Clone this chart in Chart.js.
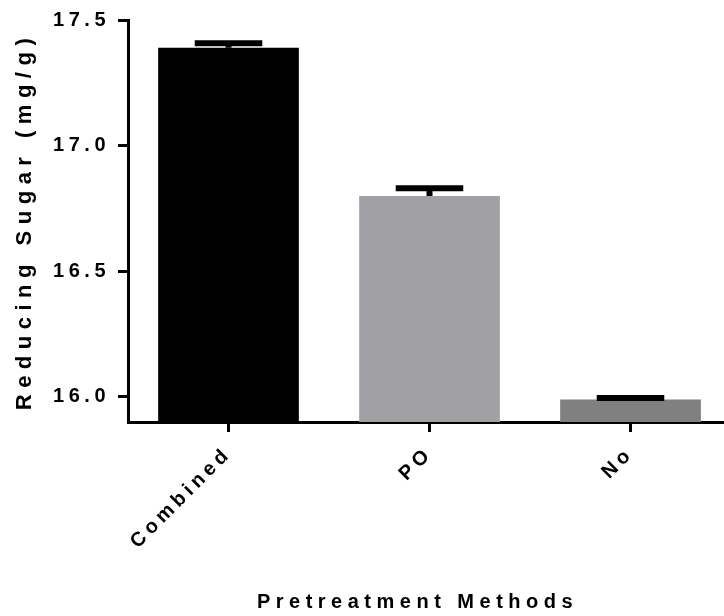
<!DOCTYPE html>
<html>
<head>
<meta charset="utf-8">
<script src="https://cdn.jsdelivr.net/npm/chart.js@4"></script>
<style>
  html, body { margin: 0; padding: 0; background: #fff; overflow: hidden; }
  #wrap { width: 740px; height: 616px; position: relative; }
</style>
</head>
<body>
<div id="wrap"><canvas id="myChart"></canvas></div>
<script>
const methods = ['Combined', 'PO', 'No'];
const sugar = [17.39, 16.80, 15.99];
const sugarErr = [0.017, 0.03, 0.006];
const barColors = ['#000000', '#a1a0a5', '#808080'];
const yTicks = [16.0, 16.5, 17.0, 17.5];

const tickSpacing = '4.5px';
const titleSpacing = { x: '5.5px', y: '6.5px' };

// wide letter spacing like the original figure
const spacing = {
  id: 'spacing',
  beforeLayout(chart) { chart.ctx.letterSpacing = tickSpacing; },
  beforeDraw(chart) {
    chart.ctx.letterSpacing = tickSpacing;
    Object.values(chart.scales).forEach(s => {
      if (s._spaced) return;
      const orig = s.drawTitle.bind(s);
      s.drawTitle = function () {
        const c = chart.ctx;
        c.save();
        c.letterSpacing = titleSpacing[s.id];
        if (s.id === 'x') c.translate(-12, 0);
        orig();
        c.restore();
      };
      s._spaced = true;
    });
  }
};

// error bars (upper half only)
const errorBars = {
  id: 'errorBars',
  afterDatasetsDraw(chart) {
    const ctx = chart.ctx;
    const y = chart.scales.y;
    chart.getDatasetMeta(0).data.forEach((bar, i) => {
      const yTop = y.getPixelForValue(sugar[i] + sugarErr[i]);
      const half = bar.width * 0.24;
      ctx.save();
      ctx.strokeStyle = '#000';
      ctx.lineWidth = 6;
      ctx.beginPath();
      ctx.moveTo(bar.x, bar.y);
      ctx.lineTo(bar.x, yTop);
      ctx.moveTo(bar.x - half, yTop);
      ctx.lineTo(bar.x + half, yTop);
      ctx.stroke();
      ctx.restore();
    });
  }
};

const ctx = document.getElementById('myChart');

new Chart(ctx, {
  type: 'bar',
  data: {
    labels: methods,
    datasets: [{
      data: sugar,
      backgroundColor: barColors,
      categoryPercentage: 1,
      barPercentage: 0.7
    }]
  },
  plugins: [spacing, errorBars],
  options: {
    responsive: true,
    maintainAspectRatio: false,
    animation: false,
    layout: { padding: { top: 19, right: 9, left: 0, bottom: 0 } },
    plugins: {
      legend: { display: false },
      tooltip: { enabled: false }
    },
    scales: {
      x: {
        grid: { offset: false, drawOnChartArea: false, drawTicks: true, tickLength: 10, tickWidth: 3, tickColor: '#000' },
        border: { display: true, width: 3, color: '#000' },
        ticks: {
          color: '#000',
          font: { family: 'Liberation Sans', size: 20, weight: 'bold' },
          minRotation: 45,
          maxRotation: 45,
          padding: 10
        },
        title: {
          display: true,
          text: 'Pretreatment Methods',
          color: '#000',
          font: { family: 'Liberation Sans', size: 20, weight: 'bold' },
          padding: { top: 0, bottom: 2 }
        },
        afterFit: (scale) => { scale.height = 194; }
      },
      y: {
        min: 15.9,
        max: 17.5,
        afterBuildTicks: (scale) => { scale.ticks = yTicks.map(v => ({ value: v })); },
        grid: { drawOnChartArea: false, drawTicks: true, tickLength: 10, tickWidth: 3, tickColor: '#000' },
        border: { display: true, width: 3, color: '#000' },
        ticks: {
          color: '#000',
          font: { family: 'Liberation Sans', size: 20, weight: 'bold' },
          padding: 8,
          callback: (value) => Number(value).toFixed(1)
        },
        title: {
          display: true,
          text: 'Reducing Sugar (mg/g)',
          color: '#000',
          font: { family: 'Liberation Sans', size: 22, weight: 'bold' },
          padding: { top: 12, bottom: 0 }
        },
        afterFit: (scale) => { scale.width = 128; }
      }
    }
  }
});
</script>
</body>
</html>
